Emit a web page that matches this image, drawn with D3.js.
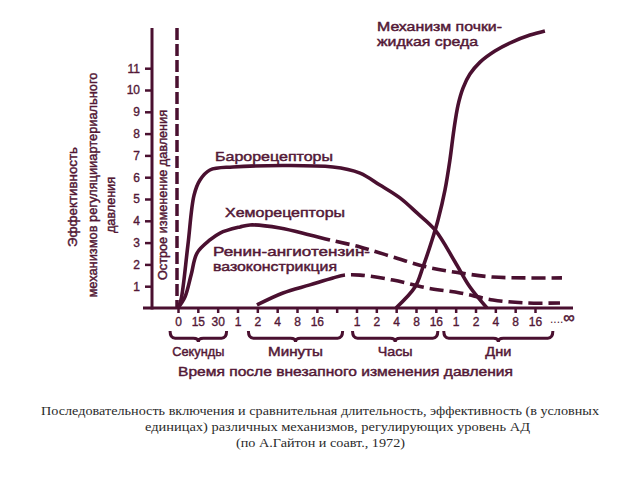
<!DOCTYPE html>
<html><head><meta charset="utf-8">
<script src="https://cdn.jsdelivr.net/npm/d3@7"></script>
<style>body{margin:0;background:#fff}svg{display:block}</style>
</head><body>
<svg id="c" width="640" height="480"></svg>
<script>
// ---------- data ----------
const xTickLabels = ["0","15","30","1","2","4","8","16","","1","2","4","8","16","1","2","4","8","16"];
const yTickValues = [1,2,3,4,5,6,7,8,9,10,11];
const timeGroups = ["Секунды","Минуты","Часы","Дни"];
const groupSpans = [[-0.4,2.45],[3.55,8.3],[8.8,13.1],[13.4,18.9]];

// [time index, effectiveness]
const baroreceptors = [[0,0],[0.15,0.37],[0.5,2.89],[0.81,5.18],[1.11,5.87],[1.61,6.33],[2.77,6.47],
  [7.81,6.47],[9.18,6.19],[10.18,5.64],[11.19,5.05],[12.05,4.36],[12.96,3.58],[13.97,2.11],[14.72,0.96],[15.58,0]];
const chemoreceptors = [[0,0],[0.35,0.5],[0.66,1.51],[0.96,2.52],[1.61,3.12],[2.12,3.44],[3.13,3.72],[3.63,3.81],
  [5.14,3.67],[6.65,3.35],[7.66,3.12],[9.18,2.8],[10.84,2.34],[12.55,1.88],[14.22,1.61],[15.88,1.42],[17.6,1.38],[19.36,1.38]];
const chemoDashFrom = 7.66;
const reninAngiotensin = [[3.98,0.14],[5.29,0.69],[6.65,1.06],[7.81,1.38],[8.42,1.51],[9.18,1.51],
  [10.84,1.28],[12.55,0.92],[14.22,0.69],[15.88,0.37],[17.6,0.23],[19.26,0.23]];
const reninDashFrom = 8.42;
const kidneyFluid = [[10.99,0],[11.95,0.96],[12.35,1.88],[12.81,3.12],[13.11,4.04],[13.46,5.41],[13.71,6.79],
  [13.91,8.17],[14.12,9.31],[14.37,10.09],[14.72,10.73],[15.23,11.28],[15.98,11.79],[16.84,12.2],[17.75,12.52],[18.5,12.71]];

const seriesLabels = ["Механизм почки-","жидкая среда","Барорецепторы","Хеморецепторы","Ренин-ангиотензин-","вазоконстрикция"];
const acuteLabel = "Острое изменение давления";
const yTitle = ["Эффективность","механизмов регуляцииартериального","давления"];
const xTitle = "Время после внезапного изменения давления";
const caption = ["Последовательность включения и сравнительная длительность, эффективность (в условных",
  "единицах) различных механизмов, регулирующих уровень АД","(по А.Гайтон и соавт., 1972)"];

// ---------- layout ----------
const INK = "#4a1030", TXT = "#531836";
const svg = d3.select("#c");
svg.append("rect").attr("width",640).attr("height",480).attr("fill","#fff");
const x = d3.scaleLinear().domain([0,18]).range([178,535]);
const y = d3.scaleLinear().domain([0,12.844]).range([308,28]);
const SANS = "'Liberation Sans', Arial, sans-serif";
const SW = 0.45;

function txt(s, tx, ty, len, size, opt={}) {
  const t = svg.append("text").attr("x",tx).attr("y",ty).text(s)
    .attr("font-family", opt.family || SANS).attr("font-size", size)
    .attr("fill", opt.fill || TXT).attr("text-anchor", opt.anchor || "start");
  if (len) t.attr("textLength",len).attr("lengthAdjust","spacingAndGlyphs");
  if (!opt.family) t.attr("stroke", opt.fill || TXT).attr("stroke-width",SW);
  return t;
}
function rtxt(s, bx, cy, len, size) {
  svg.append("text").attr("transform",`translate(${bx},${cy}) rotate(-90)`)
    .attr("text-anchor","middle").attr("font-family",SANS).attr("font-size",size)
    .attr("fill",TXT).attr("stroke",TXT).attr("stroke-width",SW)
    .attr("textLength",len).attr("lengthAdjust","spacingAndGlyphs").text(s);
}

// axes
const yAxis = svg.append("g").attr("transform",`translate(152,0)`)
  .call(d3.axisLeft(y).tickValues(yTickValues).tickSize(7).tickPadding(5).tickFormat(d3.format("d")));
yAxis.select(".domain").remove();
yAxis.selectAll("line").attr("stroke",INK).attr("stroke-width",2.5);
yAxis.selectAll("text").attr("font-family",SANS).attr("font-size",12).attr("fill",TXT)
  .attr("stroke",TXT).attr("stroke-width",0.35);
svg.append("line").attr("x1",152).attr("x2",152).attr("y1",y.range()[1]).attr("y2",y(0)+1.5)
  .attr("stroke",INK).attr("stroke-width",3);

const xAxis = svg.append("g").attr("transform",`translate(0,${y(0)})`)
  .call(d3.axisBottom(x).tickValues(d3.range(xTickLabels.length)).tickSize(5).tickPadding(4)
    .tickFormat(i => xTickLabels[i]));
xAxis.select(".domain").remove();
xAxis.selectAll("line").attr("stroke",INK).attr("stroke-width",2.5);
xAxis.selectAll("text").attr("font-family",SANS).attr("font-size",12).attr("fill",TXT)
  .attr("stroke",TXT).attr("stroke-width",0.35);
svg.append("line").attr("x1",x(0)-35).attr("x2",x(18)+38).attr("y1",y(0)).attr("y2",y(0))
  .attr("stroke",INK).attr("stroke-width",3);
const inf = svg.append("text").attr("x",x(18)+15).attr("y",323).attr("font-family",SANS)
  .attr("fill",TXT);
inf.append("tspan").attr("font-size",12).text("....");
inf.append("tspan").attr("font-size",16).attr("stroke",TXT).attr("stroke-width",0.5).text("∞");

// acute change dashed line
svg.append("line").attr("x1",x(0)-1).attr("x2",x(0)-1).attr("y1",y.range()[1]).attr("y2",y(0))
  .attr("stroke",INK).attr("stroke-width",3.5).attr("stroke-dasharray","12,4");

// curves
const line = d3.line().x(d=>x(d[0])).y(d=>y(d[1])).curve(d3.curveCatmullRom.alpha(0.5));
function drawSeries(data, dashFrom) {
  const p = svg.append("path").attr("d",line(data)).attr("fill","none").attr("stroke",INK)
    .attr("stroke-width",3.6).attr("stroke-linecap","butt");
  if (dashFrom !== undefined) {
    const tmp = svg.append("path").attr("d", line(data.filter(d=>d[0]<=dashFrom)));
    const ls = tmp.node().getTotalLength(); tmp.remove();
    const total = p.node().getTotalLength();
    const arr = [ls]; let s = ls;
    while (s < total) { arr.push(6,14); s += 20; }
    p.attr("stroke-dasharray", arr.join(","));
  }
}
drawSeries(baroreceptors);
drawSeries(chemoreceptors, chemoDashFrom);
drawSeries(reninAngiotensin, reninDashFrom);
drawSeries(kidneyFluid);

// series labels
txt(seriesLabels[0], 377, 31, 125, 13);
txt(seriesLabels[1], 377, 46, 101, 13);
txt(seriesLabels[2], 215, 161, 118, 13);
txt(seriesLabels[3], 225, 217, 120, 13);
txt(seriesLabels[4], 213, 256, 157, 13);
txt(seriesLabels[5], 213, 271, 124, 13);

// rotated labels
rtxt(acuteLabel, 167, 195, 170, 13);
rtxt(yTitle[0], 77, 197, 100, 13);
rtxt(yTitle[1], 97, 185, 225, 13);
rtxt(yTitle[2], 115, 205, 56, 13);

// braces + group labels
function brace(x0, x1, yTop, h) {
  const m=(x0+x1)/2, r=5, yh=yTop+h*0.65, yt=yTop+h;
  return `M${x0},${yTop} Q${x0},${yh} ${x0+r},${yh} L${m-r},${yh} Q${m},${yh} ${m},${yt} Q${m},${yh} ${m+r},${yh} L${x1-r},${yh} Q${x1},${yh} ${x1},${yTop}`;
}
const groupLens = [52,55,35,26];
timeGroups.forEach((g,i) => {
  const x0 = x(groupSpans[i][0]), x1 = x(groupSpans[i][1]);
  svg.append("path").attr("d",brace(x0,x1,331,11)).attr("fill","none")
    .attr("stroke",INK).attr("stroke-width",3);
  txt(g, (x0+x1)/2, 356, groupLens[i], 13, {anchor:"middle"});
});
txt(xTitle, 178, 376, 335, 13.5);

// caption
const SERIF = "'Liberation Serif', 'Times New Roman', serif";
txt(caption[0], 41, 415, 558, 13, {family:SERIF, fill:"#2a2a2a"});
txt(caption[1], 145, 431, 385, 13, {family:SERIF, fill:"#2a2a2a"});
txt(caption[2], 236, 447, 169, 13, {family:SERIF, fill:"#2a2a2a"});
</script>
</body></html>
